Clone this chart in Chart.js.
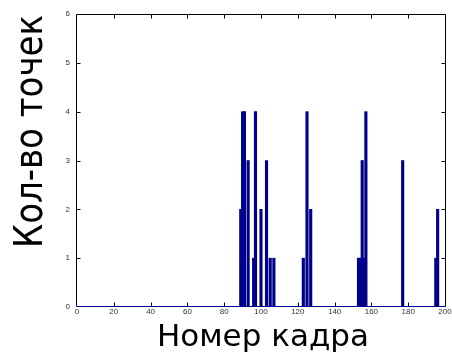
<!DOCTYPE html>
<html>
<head>
<meta charset="utf-8">
<script src="https://cdn.jsdelivr.net/npm/chart.js@4/dist/chart.umd.min.js"></script>
<style>
  html, body { margin: 0; padding: 0; background: #fff; }
  #wrap { width: 452px; height: 356px; }
</style>
</head>
<body>
<div id="wrap"><canvas id="c" width="452" height="356"></canvas></div>
<script>
// Frame numbers and how many points were found in each
const frames = [89, 90, 91, 93, 96, 97, 100, 103, 105, 107, 123, 125, 127, 153, 154, 155, 156, 157, 177, 195, 196];
const counts = [2, 4, 4, 3, 1, 4, 2, 3, 1, 1, 1, 4, 2, 1, 1, 3, 1, 4, 3, 1, 2];

// Axis ticks
const xTicks = [0, 20, 40, 60, 80, 100, 120, 140, 160, 180, 200];
const yTicks = [0, 1, 2, 3, 4, 5, 6];

// Axis titles
const xTitle = 'Номер кадра';
const yTitle = 'Кол-во точек';

const BAR_COLOR = '#00008C';

// Box around the plot, inward tick marks on all four sides, bar baseline and axis titles
const framePlugin = {
  id: 'frame',
  afterDatasetsDraw(chart) {
    const { ctx, chartArea: a, scales } = chart;
    const L = Math.round(a.left) - 0.5, R = Math.round(a.right) + 0.5;
    const T = Math.round(a.top) + 0.5, B = Math.round(a.bottom) - 0.5;
    ctx.save();
    ctx.lineWidth = 1;
    ctx.strokeStyle = '#000';
    ctx.beginPath();
    ctx.moveTo(L, B); ctx.lineTo(L, T); ctx.lineTo(R, T); ctx.lineTo(R, B);
    const tl = 4;
    // end ticks coincide with the box sides, so only inner ones are drawn
    xTicks.slice(1, -1).forEach(v => {
      const px = Math.round(scales.x.getPixelForValue(v)) + 0.5;
      ctx.moveTo(px, B); ctx.lineTo(px, B - tl);
      ctx.moveTo(px, T); ctx.lineTo(px, T + tl);
    });
    yTicks.slice(1, -1).forEach(v => {
      const py = Math.round(scales.y.getPixelForValue(v)) + 0.5;
      ctx.moveTo(L, py); ctx.lineTo(L + tl, py);
      ctx.moveTo(R, py); ctx.lineTo(R - tl, py);
    });
    ctx.stroke();
    // baseline of the bars
    ctx.strokeStyle = BAR_COLOR;
    ctx.beginPath();
    ctx.moveTo(L, B); ctx.lineTo(R, B);
    ctx.stroke();

    // axis titles
    ctx.fillStyle = '#000';
    ctx.textAlign = 'center';
    ctx.textBaseline = 'alphabetic';
    ctx.font = '31px "DejaVu Sans"';
    ctx.fillText(xTitle, 263, 346, 214);
    ctx.translate(42, 131.5);
    ctx.rotate(-Math.PI / 2);
    ctx.font = '39px "DejaVu Sans"';
    ctx.fillText(yTitle, 0, 0, 233);
    ctx.restore();
  }
};

new Chart(document.getElementById('c'), {
  type: 'bar',
  data: {
    datasets: [{
      data: frames.map((f, i) => ({ x: f, y: counts[i] })),
      backgroundColor: BAR_COLOR,
      borderWidth: 0,
      barThickness: 2.5
    }]
  },
  options: {
    responsive: false,
    devicePixelRatio: 1,
    animation: false,
    layout: { padding: { left: 0, top: 14, right: 7, bottom: 0 } },
    plugins: { legend: { display: false }, tooltip: { enabled: false } },
    scales: {
      x: {
        type: 'linear',
        offset: false,
        min: 0, max: 200,
        afterBuildTicks: s => { s.ticks = xTicks.map(v => ({ value: v })); },
        afterFit: s => { s.height = 49; },
        grid: { display: false, drawTicks: false, offset: false },
        border: { display: false },
        ticks: {
          autoSkip: false, maxRotation: 0, padding: 0,
          color: '#333',
          font: { family: '"Liberation Sans", Arial', size: 8 }
        }
      },
      y: {
        min: 0, max: 6,
        afterBuildTicks: s => { s.ticks = yTicks.map(v => ({ value: v })); },
        afterFit: s => { s.width = 77; },
        grid: { display: false, drawTicks: false },
        border: { display: false },
        ticks: {
          padding: 7,
          color: '#333',
          font: { family: '"Liberation Sans", Arial', size: 8 }
        }
      }
    }
  },
  plugins: [framePlugin]
});
</script>
</body>
</html>
